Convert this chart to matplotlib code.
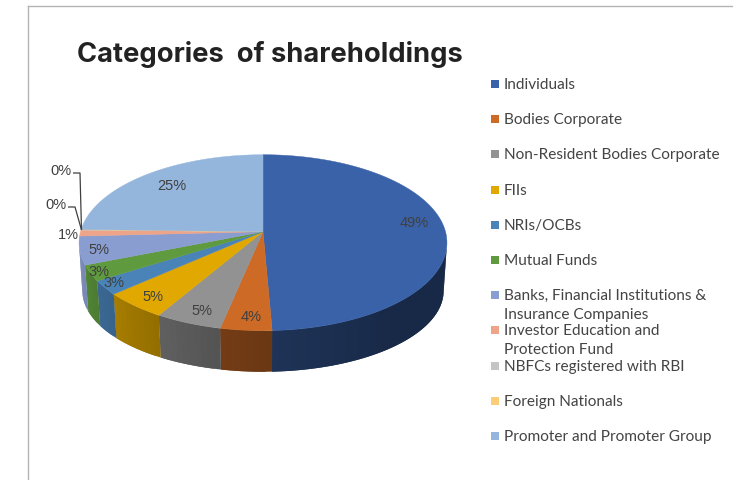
import numpy as np
import matplotlib
matplotlib.use("Agg")
import matplotlib.pyplot as plt
from matplotlib.patches import Polygon, Rectangle
from matplotlib.colors import to_rgb

title = "Categories  of shareholdings"
categories = ["Individuals", "Bodies Corporate", "Non-Resident Bodies Corporate", "FIIs", "NRIs/OCBs",
              "Mutual Funds", "Banks, Financial Institutions &\nInsurance Companies",
              "Investor Education and\nProtection Fund", "NBFCs registered with RBI",
              "Foreign Nationals", "Promoter and Promoter Group"]
values = [49.3, 4.0, 5.2, 5.0, 2.6, 2.9, 5.2, 1.1, 0.05, 0.05, 24.6]
colors = ["#3a62a8", "#cc6a26", "#929292", "#e0a800", "#4a83b8", "#5f9a3e",
          "#8a9dd0", "#eda488", "#c4c4c4", "#fdcd78", "#95b6dc"]

# layout (pixels)
label_xy = [(414, 223), (251, 317), (202, 311), (153, 297), (114, 283), (99, 272),
            (99, 250), (68, 235), (61, 171), (56, 205), (172, 186)]
legend_y = [85, 120, 155, 191, 226, 261, 305.5, 340.5, 367, 402, 437]
CX, CY, A, B, PB = 263, 232.7, 182.5, 86.6, 0.125
SIDE_FROM, SIDE_TO = 97, 263

fig = plt.figure(figsize=(7.33, 4.81), dpi=100, facecolor="white")
ax = fig.add_axes([0, 0, 1, 1])
ax.set_xlim(0, 733)
ax.set_ylim(481, 0)
ax.axis("off")

def top(theta):
    t = np.radians(theta)
    u, v = np.sin(t), np.cos(t)
    d = 1 + PB * v
    return CX + A * u / d, -B * v / d

def rim(theta):
    x, y = top(theta)
    return x, CY + y

def base(theta):
    x, y = top(theta)
    return CX + (x - CX) * 0.982, CY + y * 0.92 + 49

def shade(theta):
    return np.interp(theta, [140, 170, 190, 220, 250, 275], [0.42, 0.5, 0.56, 0.7, 0.87, 0.92])

edges = 360 * np.concatenate([[0], np.cumsum(values)]) / np.sum(values)

# side wall: overlapping strips, painted in order, so no seams show
for i, col in enumerate(colors):
    lo, hi = max(edges[i], SIDE_FROM), min(edges[i + 1], SIDE_TO)
    if hi <= lo:
        continue
    steps = np.linspace(lo, hi, max(2, int((hi - lo) / 2) + 2))
    rgb = np.array(to_rgb(col))
    for j in range(len(steps) - 1):
        s0 = steps[j]
        s1 = steps[min(j + 2, len(steps) - 1)]
        th = np.linspace(s0, s1, 5)
        rx, ry = rim(th)
        bx, by = base(th[::-1])
        pts = np.column_stack([np.r_[rx, bx], np.r_[ry, by]])
        c = rgb * shade((steps[j] + steps[j + 1]) / 2)
        ax.add_patch(Polygon(pts, closed=True, facecolor=c, edgecolor="none"))

# top face
for i, col in enumerate(colors):
    th = np.linspace(edges[i], edges[i + 1], max(2, int(edges[i + 1] - edges[i]) * 2 + 2))
    xs, ys = rim(th)
    pts = np.column_stack([np.r_[CX, xs], np.r_[CY, ys]])
    ax.add_patch(Polygon(pts, closed=True, facecolor=col, edgecolor=col, lw=0.3))

# leader lines
for x0, y0, x1 in [(73, 174, 80), (68, 208, 75)]:
    ax.plot([x0, x1, 81.5], [y0, y0, 231], color="#404040", lw=0.9, solid_capstyle="butt")

# data labels
total = sum(values)
for v, (x, y) in zip(values, label_xy):
    ax.text(x, y, f"{round(100 * v / total):d}%", ha="center", va="center",
            fontsize=10.5, color="#404040", family="Liberation Sans")

# legend
for name, col, y in zip(categories, colors, legend_y):
    first = y if "\n" not in name else y - 9.5
    ax.add_patch(Rectangle((491, first - 4), 8, 8, facecolor=col, edgecolor="none"))
    ax.text(504, y, name, ha="left", va="center", fontsize=11.1, color="#444444",
            family="Lato", linespacing=1.4)

# frame
ax.plot([28, 733], [7, 7], color="#b4b4b4", lw=1)
ax.plot([28, 28], [7, 481], color="#b4b4b4", lw=1)

ax.text(77, 54, title, ha="left", va="center", fontsize=19.7, fontweight="bold",
        color="#222222", family="Inter")

fig.savefig("out.png", dpi=100)
